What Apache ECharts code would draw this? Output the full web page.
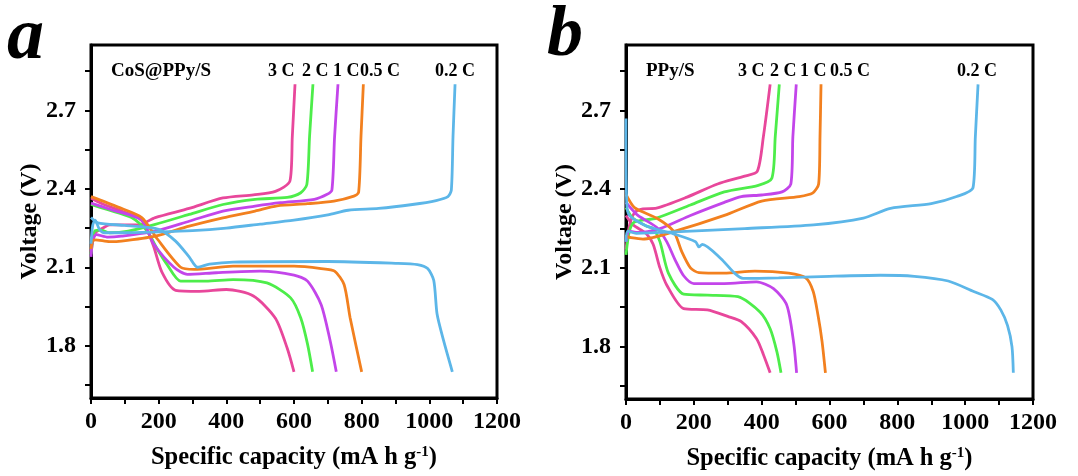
<!DOCTYPE html>
<html>
<head>
<meta charset="utf-8">
<script src="https://cdn.jsdelivr.net/npm/echarts@6/dist/echarts.min.js"></script>
<style>html,body{margin:0;padding:0;background:#fff}#c{width:1078px;height:476px}</style>
</head>
<body>
<div id="c"></div>
<script>
// ---------- data ----------
const rates = ['3 C', '2 C', '1 C', '0.5 C', '0.2 C'];
const colors = ['#e8479b', '#4ded4a', '#c345ea', '#f2801f', '#5cb6e8'];
const xTickLabels = [0, 200, 400, 600, 800, 1000, 1200];
const yTickLabels = [1.8, 2.1, 2.4, 2.7];
const yMinorTicks = [1.65, 1.8, 1.95, 2.1, 2.25, 2.4, 2.55, 2.7, 2.85];

// Panel a: CoS@PPy/S  [capacity, voltage]
const a3C_charge = [[0,2.16],[5,2.21],[15,2.235],[35,2.25],[55,2.262],[140,2.262],[190,2.29],[290,2.325],[390,2.365],[480,2.377],[545,2.39],[588,2.43],[595,2.6],[603,2.8]];
const a3C_discharge = [[0,2.365],[30,2.345],[90,2.315],[140,2.29],[160,2.26],[185,2.18],[210,2.08],[250,2.012],[320,2.008],[400,2.015],[480,1.99],[545,1.905],[580,1.79],[600,1.7]];
const a2C_charge = [[0,2.15],[5,2.2],[12,2.24],[30,2.242],[55,2.232],[110,2.238],[190,2.264],[290,2.302],[390,2.34],[485,2.36],[580,2.367],[620,2.385],[638,2.417],[646,2.6],[656,2.8]];
const a2C_discharge = [[0,2.34],[50,2.32],[120,2.29],[165,2.24],[200,2.16],[225,2.11],[265,2.047],[340,2.047],[420,2.053],[520,2.04],[590,1.983],[620,1.906],[640,1.806],[655,1.7]];
const a1C_charge = [[0,2.14],[5,2.2],[15,2.225],[50,2.215],[90,2.219],[190,2.238],[290,2.276],[390,2.315],[485,2.334],[560,2.347],[660,2.36],[698,2.379],[712,2.395],[720,2.6],[730,2.8]];
const a1C_discharge = [[0,2.345],[60,2.32],[150,2.28],[185,2.19],[245,2.1],[285,2.073],[370,2.079],[500,2.085],[600,2.07],[640,2.047],[680,1.958],[707,1.818],[725,1.7]];
const a05C_charge = [[0,2.17],[5,2.2],[12,2.205],[55,2.198],[90,2.2],[190,2.219],[290,2.257],[390,2.289],[485,2.315],[550,2.335],[640,2.343],[718,2.353],[777,2.372],[791,2.387],[798,2.6],[805,2.8]];
const a05C_discharge = [[0,2.37],[80,2.33],[150,2.29],[195,2.21],[265,2.1],[305,2.092],[420,2.104],[600,2.104],[680,2.095],[720,2.085],[748,2.034],[766,1.906],[800,1.7]];
const a02C_charge = [[0,2.19],[5,2.26],[12,2.28],[25,2.245],[40,2.232],[100,2.232],[200,2.235],[300,2.24],[400,2.25],[500,2.265],[600,2.28],[700,2.3],[760,2.318],[850,2.325],[950,2.34],[1020,2.355],[1055,2.37],[1065,2.395],[1070,2.6],[1076,2.8]];
const a02C_discharge = [[0,2.29],[20,2.27],[100,2.26],[200,2.245],[250,2.2],[290,2.14],[315,2.1],[350,2.112],[420,2.12],[700,2.122],[900,2.115],[965,2.11],[995,2.095],[1013,2.05],[1023,1.92],[1042,1.82],[1068,1.7]];

// Panel b: PPy/S
const b3C_charge = [[0,2.17],[10,2.26],[25,2.31],[50,2.325],[90,2.328],[180,2.37],[270,2.42],[350,2.45],[387,2.468],[405,2.6],[425,2.8]];
const b3C_discharge = [[0,2.3],[20,2.265],[60,2.23],[80,2.19],[100,2.1],[120,2.035],[170,1.945],[240,1.94],[300,1.915],[340,1.895],[385,1.83],[405,1.77],[425,1.7]];
const b2C_charge = [[0,2.15],[10,2.24],[25,2.275],[90,2.29],[190,2.34],[290,2.39],[390,2.415],[430,2.442],[440,2.6],[452,2.8]];
const b2C_discharge = [[0,2.33],[20,2.29],[60,2.26],[80,2.25],[100,2.2],[125,2.08],[170,2.0],[240,1.996],[330,1.99],[395,1.932],[425,1.868],[445,1.78],[457,1.7]];
const b1C_charge = [[0,2.2],[10,2.24],[30,2.235],[100,2.25],[190,2.3],[290,2.35],[340,2.372],[400,2.378],[460,2.39],[486,2.42],[492,2.6],[502,2.8]];
const b1C_discharge = [[0,2.35],[35,2.3],[90,2.255],[120,2.2],[145,2.13],[170,2.07],[200,2.04],[290,2.04],[385,2.047],[435,2.021],[474,1.958],[494,1.818],[503,1.7]];
const b05C_charge = [[0,2.22],[15,2.215],[50,2.21],[140,2.238],[290,2.3],[400,2.355],[510,2.372],[550,2.385],[568,2.42],[572,2.6],[575,2.8]];
const b05C_discharge = [[0,2.38],[25,2.33],[90,2.29],[140,2.24],[165,2.16],[190,2.1],[215,2.082],[290,2.08],[380,2.088],[480,2.08],[530,2.062],[552,2.01],[566,1.92],[578,1.82],[588,1.7]];
const b02C_charge = [[0,2.2],[5,2.24],[30,2.232],[160,2.238],[350,2.25],[553,2.264],[700,2.29],[780,2.327],[900,2.345],[975,2.372],[1023,2.405],[1030,2.6],[1038,2.8]];
const b02C_discharge = [[0,2.67],[2,2.35],[10,2.3],[60,2.26],[140,2.23],[205,2.2],[215,2.18],[225,2.19],[280,2.135],[320,2.08],[345,2.06],[450,2.062],[600,2.068],[750,2.072],[850,2.068],[950,2.05],[1025,2.01],[1080,1.98],[1105,1.94],[1125,1.88],[1138,1.8],[1142,1.7]];

const panelA = [[a3C_charge,a3C_discharge],[a2C_charge,a2C_discharge],[a1C_charge,a1C_discharge],[a05C_charge,a05C_discharge],[a02C_charge,a02C_discharge]];
const panelB = [[b3C_charge,b3C_discharge],[b2C_charge,b2C_discharge],[b1C_charge,b1C_discharge],[b05C_charge,b05C_discharge],[b02C_charge,b02C_discharge]];

// ---------- chart ----------
const FONT = '"Liberation Serif", "Times New Roman", serif';
const chart = echarts.init(document.getElementById('c'), null, {renderer: 'canvas'});

function xAxis(gi) {
  return {
    gridIndex: gi, type: 'value', min: 0, max: 1200, interval: 100,
    name: 'Specific capacity (mA h g{sup|-1})', nameLocation: 'middle', nameGap: 47,
    nameTextStyle: {
      fontFamily: FONT, fontWeight: 'bold', fontSize: 24.5, color: '#000',
      rich: {sup: {fontFamily: FONT, fontWeight: 'bold', fontSize: 15, color: '#000', verticalAlign: 'top', padding: [0,0,10,0]}}
    },
    axisLine: {lineStyle: {color: '#000', width: 3}},
    axisTick: {show: true, inside: false, length: 6, lineStyle: {color: '#000', width: 2}},
    axisLabel: {
      customValues: xTickLabels, margin: 12,
      formatter: v => String(v),
      fontFamily: FONT, fontWeight: 'bold', fontSize: 24, color: '#000'
    },
    splitLine: {show: false}
  };
}
function yAxis(gi) {
  return {
    gridIndex: gi, type: 'value', min: 1.6, max: 2.95,
    name: 'Voltage (V)', nameLocation: 'middle', nameGap: 49,
    nameTextStyle: {fontFamily: FONT, fontWeight: 'bold', fontSize: 24, color: '#000'},
    axisLine: {lineStyle: {color: '#000', width: 3}},
    axisTick: {show: true, inside: false, length: 6, lineStyle: {color: '#000', width: 2}, customValues: yMinorTicks},
    axisLabel: {
      customValues: yTickLabels, margin: 15,
      formatter: v => v.toFixed(1),
      fontFamily: FONT, fontWeight: 'bold', fontSize: 24, color: '#000'
    },
    splitLine: {show: false}
  };
}

const series = [];
[panelA, panelB].forEach((panel, gi) => {
  panel.forEach((pair, ri) => {
    pair.forEach((curve, k) => {
      series.push({
        type: 'line', xAxisIndex: gi, yAxisIndex: gi,
        name: rates[ri] + (k ? ' discharge' : ' charge'),
        data: curve, showSymbol: false, smooth: 0.25,
        lineStyle: {color: colors[ri], width: 2.8},
        itemStyle: {color: colors[ri]},
        z: 2 + ri, silent: true
      });
    });
  });
});

function txt(x, y, s, size) {
  return {
    type: 'text', left: x, top: y,
    style: {text: s, fontFamily: FONT, fontWeight: 'bold', fontSize: size, fill: '#000'}
  };
}

const graphic = [
  {type: 'text', left: 7, top: 2, style: {text: 'a', fontFamily: FONT, fontWeight: 'bold', fontStyle: 'italic', fontSize: 74, fill: '#000'}},
  {type: 'text', left: 547, top: 0, style: {text: 'b', fontFamily: FONT, fontWeight: 'bold', fontStyle: 'italic', fontSize: 72, fill: '#000'}},
  txt(111, 62, 'CoS@PPy/S', 19),
  txt(268, 62, '3 C', 18), txt(302, 62, '2 C', 18), txt(333, 62, '1 C', 18), txt(360, 62, '0.5 C', 18), txt(435, 62, '0.2 C', 18),
  txt(646, 62, 'PPy/S', 19),
  txt(738, 62, '3 C', 18), txt(770, 62, '2 C', 18), txt(800, 62, '1 C', 18), txt(830, 62, '0.5 C', 18), txt(957, 62, '0.2 C', 18)
];

chart.setOption({
  animation: false,
  backgroundColor: '#fff',
  grid: [
    {left: 91, top: 45, width: 406, height: 353, show: true, borderColor: '#000', borderWidth: 3, backgroundColor: 'transparent'},
    {left: 626, top: 45, width: 407, height: 354, show: true, borderColor: '#000', borderWidth: 3, backgroundColor: 'transparent'}
  ],
  xAxis: [xAxis(0), xAxis(1)],
  yAxis: [yAxis(0), yAxis(1)],
  series: series,
  graphic: graphic
});
</script>
</body>
</html>
